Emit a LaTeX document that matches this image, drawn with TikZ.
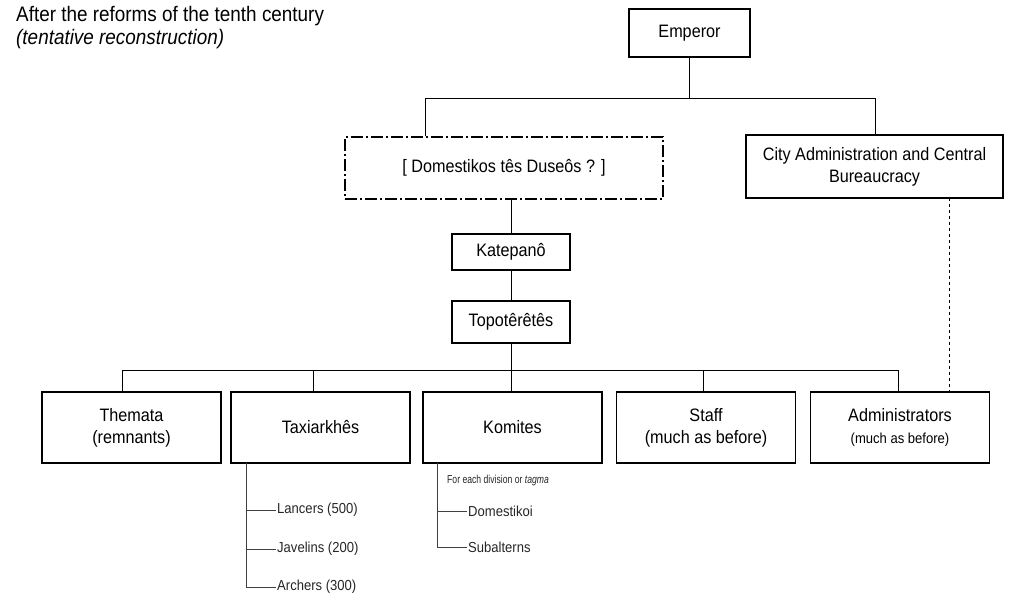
\documentclass[tikz,border=0pt]{standalone}
\usepackage{fontspec}
\setmainfont{Liberation Sans}[FakeStretch=0.9]
\newcommand\mylbl{\fontsize{18}{22}\selectfont}
\newcommand\mysmall{\fontsize{14.5}{17}\selectfont}
\newcommand\mytiny{\addfontfeature{FakeStretch=0.75}\fontsize{11.5}{13}\selectfont}
\newcommand\mytitle{\fontsize{21}{23}\selectfont}
\begin{document}
\begin{tikzpicture}[x=1pt,y=-1pt,
  box/.style={draw, line width=1.1pt, inner sep=0pt, align=center, font=\mylbl},
  conn/.style={line width=1pt},
  subconn/.style={line width=1pt, draw=black!75},
  subtxt/.style={anchor=west, inner sep=1pt, text=black!85, font=\mysmall},
  dashdotbox/.style={box, dash pattern=on 12pt off 3pt on 2pt off 3pt},
  dotconn/.style={line width=1pt, dash pattern=on 3pt off 3pt}]
\useasboundingbox (0,0) rectangle (1029,603);

% title
\node[anchor=base west, inner sep=0pt, font=\mytitle] (t1) at (16,21) {After the reforms of the tenth century};
\node[anchor=base west, inner sep=0pt, font=\mytitle\itshape] (t2) at (16,44) {(tentative reconstruction)};

% top boxes
\node[box, minimum width=121pt, minimum height=48pt] (emp) at (689.5,33) {Emperor};
\node[dashdotbox, minimum width=318pt, minimum height=62pt] (dom) at (504,168) {[ Domestikos tês Duseôs ? ]};
\node[box, minimum width=257pt, minimum height=63pt] (city) at (874.5,166.5) {City Administration and Central\\Bureaucracy};
\node[box, minimum width=118pt, minimum height=36pt] (kat) at (511,252) {Katepanô};
\node[box, minimum width=118pt, minimum height=42pt] (top) at (511,322) {Topotêrêtês};

% bottom boxes
\node[box, minimum width=179pt, minimum height=71pt] (the) at (131.5,427.5) {Themata\\(remnants)};
\node[box, minimum width=179pt, minimum height=71pt] (tax) at (320.5,427.5) {Taxiarkhês};
\node[box, minimum width=179pt, minimum height=71pt] (kom) at (512.5,427.5) {Komites};
\node[box, minimum width=179pt, minimum height=71pt] (sta) at (706,427.5) {Staff\\(much as before)};
\node[box, minimum width=179pt, minimum height=71pt] (adm) at (900,427.5) {Administrators\\{\mysmall(much as before)}};

% emperor connectors
\coordinate (hl) at (425,98);
\coordinate (hr) at (875,98);
\draw[conn] (emp.south) -- (emp.south |- hl);
\draw[conn] (hl |- dom.north) -- (hl) -- (hr) -- (hr |- city.north);

% spine
\draw[conn] (dom.south -| kat.north) -- (kat.north);
\draw[conn] (kat.south) -- (top.north);

% bottom bus
\coordinate (bl) at (122,370);
\coordinate (br) at (898,370);
\draw[conn] (top.south) -- (top.south |- bl);
\draw[conn] (bl |- the.north) -- (bl) -- (br) -- (br |- adm.north);
\coordinate (btax) at (313,370);
\coordinate (bkom) at (511,370);
\coordinate (bsta) at (703,370);
\draw[conn] (btax) -- (btax |- tax.north);
\draw[conn] (bkom) -- (bkom |- kom.north);
\draw[conn] (bsta) -- (bsta |- sta.north);

% dotted link
\coordinate (dtop) at (949,198);
\draw[dotconn] (dtop) -- (dtop |- adm.north);

% Taxiarkhes sub-items
\node[subtxt] (lan) at (276,510) {Lancers (500)};
\node[subtxt] (jav) at (276,549) {Javelins (200)};
\node[subtxt] (arc) at (276,587) {Archers (300)};
\coordinate (tv) at (246,463);
\draw[subconn] (tv) -- (tv |- arc.west) -- (arc.west);
\draw[subconn] (tv |- lan.west) -- (lan.west);
\draw[subconn] (tv |- jav.west) -- (jav.west);

% Komites sub-items
\node[anchor=west, inner sep=0pt, text=black!85, font=\mytiny] (fed) at (447,481) {For each division or \textit{tagma}};
\node[subtxt] (dmk) at (467,511) {Domestikoi};
\node[subtxt] (sub) at (467,547) {Subalterns};
\coordinate (kv) at (437,463);
\draw[subconn] (kv) -- (kv |- sub.west) -- (sub.west);
\draw[subconn] (kv |- dmk.west) -- (dmk.west);
\end{tikzpicture}
\end{document}
